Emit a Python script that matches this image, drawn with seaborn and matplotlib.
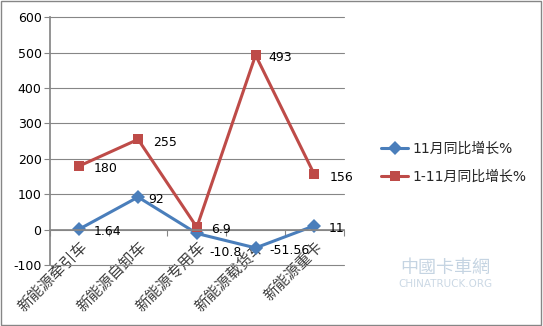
import matplotlib
matplotlib.use("Agg")
import matplotlib.pyplot as plt
import seaborn as sns
import pandas as pd
from matplotlib.patches import Rectangle

categories = ["新能源牵引车", "新能源自卸车", "新能源专用车", "新能源载货车", "新能源重卡"]
series_names = ["11月同比增长%", "1-11月同比增长%"]
nov_values = [1.64, 92, -10.8, -51.56, 11]
ytd_values = [180, 255, 6.9, 493, 156]
nov_labels = ["1.64", "92", "-10.8", "-51.56", "11"]
ytd_labels = ["180", "255", "6.9", "493", "156"]
y_ticks = [-100, 0, 100, 200, 300, 400, 500, 600]

sns.set_theme(style="white")
plt.rcParams['font.family'] = ['DejaVu Sans', 'Noto Sans CJK SC']

df = pd.DataFrame({
    "pos": list(range(len(categories))) * 2,
    "value": nov_values + ytd_values,
    "series": [series_names[0]] * len(categories) + [series_names[1]] * len(categories),
})

colors = {series_names[0]: "#4A7EBB", series_names[1]: "#BE4B48"}

fig = plt.figure(figsize=(5.43, 3.26), dpi=100)
ax = fig.add_axes([0.092, 0.187, 0.541, 0.760])

sns.lineplot(data=df, x="pos", y="value", hue="series", style="series",
             palette=colors, markers={series_names[0]: "D", series_names[1]: "s"},
             dashes=False, linewidth=2.2, markersize=7, markeredgewidth=0,
             ax=ax, legend=True)

ax.set_xlim(-0.5, 4.5)
ax.set_ylim(-100, 600)
ax.set_yticks(y_ticks)
ax.set_yticklabels([str(v) for v in y_ticks], fontsize=9, color="black")
ax.grid(axis="y", color="#868686", linewidth=0.8)
for gl in ax.get_ygridlines():
    gl.set_clip_on(False)
ax.set_axisbelow(True)
ax.set_xlabel("")
ax.set_ylabel("")

for s in ["top", "right"]:
    ax.spines[s].set_visible(False)
ax.spines["left"].set_color("#868686")
ax.spines["bottom"].set_color("#868686")
ax.spines["bottom"].set_position(("data", 0))
ax.tick_params(axis="y", left=True, length=4, color="#868686", width=0.8, pad=2)

ax.set_xticks(range(len(categories)))
ax.set_xticklabels(categories, rotation=45, ha="right", va="top",
                   rotation_mode="anchor", fontsize=11, color="#404040",
                   family=["Noto Sans CJK SC"])
ax.tick_params(axis="x", which="major", length=0, pad=6)
ax.set_xticks([i - 0.5 for i in range(len(categories) + 1)], minor=True)
ax.tick_params(axis="x", which="minor", bottom=True, length=4, color="#868686", width=0.8)

# data labels
nov_off = [(10, -2), (7, -2), (9, -14), (10, -2), (10, -2)]
ytd_off = [(10, -2), (11, -2), (10, -2), (9, -2), (11, -2)]
for i, (v, t) in enumerate(zip(nov_values, nov_labels)):
    ax.annotate(t, (i, v), xytext=nov_off[i], textcoords="offset points",
                fontsize=9, ha="left", va="center", color="black")
for i, (v, t) in enumerate(zip(ytd_values, ytd_labels)):
    ax.annotate(t, (i, v), xytext=ytd_off[i], textcoords="offset points",
                fontsize=9, ha="left", va="center", color="black")

ax.get_legend().remove()
handles, labels = ax.get_legend_handles_labels()
fig.legend(handles, labels, loc="center left", bbox_to_anchor=(0.678, 0.50),
           frameon=False, handlelength=2.0, handletextpad=0.3, labelspacing=1.0,
           prop={"family": ["DejaVu Sans", "Noto Sans CJK SC"], "size": 10})

# watermark
fig.text(0.82, 0.178, "中國卡車網", fontsize=13, color="#9FB8CF", alpha=0.6,
         family=["Noto Sans CJK SC"], ha="center", va="center")
fig.text(0.82, 0.13, "CHINATRUCK.ORG", fontsize=7.5, color="#A9BFD3", alpha=0.6,
         ha="center", va="center")

fig.patches.append(Rectangle((0.002, 0.003), 0.995, 0.993, transform=fig.transFigure,
                             fill=False, edgecolor="#868686", linewidth=1))

fig.savefig("out.png", dpi=100)
